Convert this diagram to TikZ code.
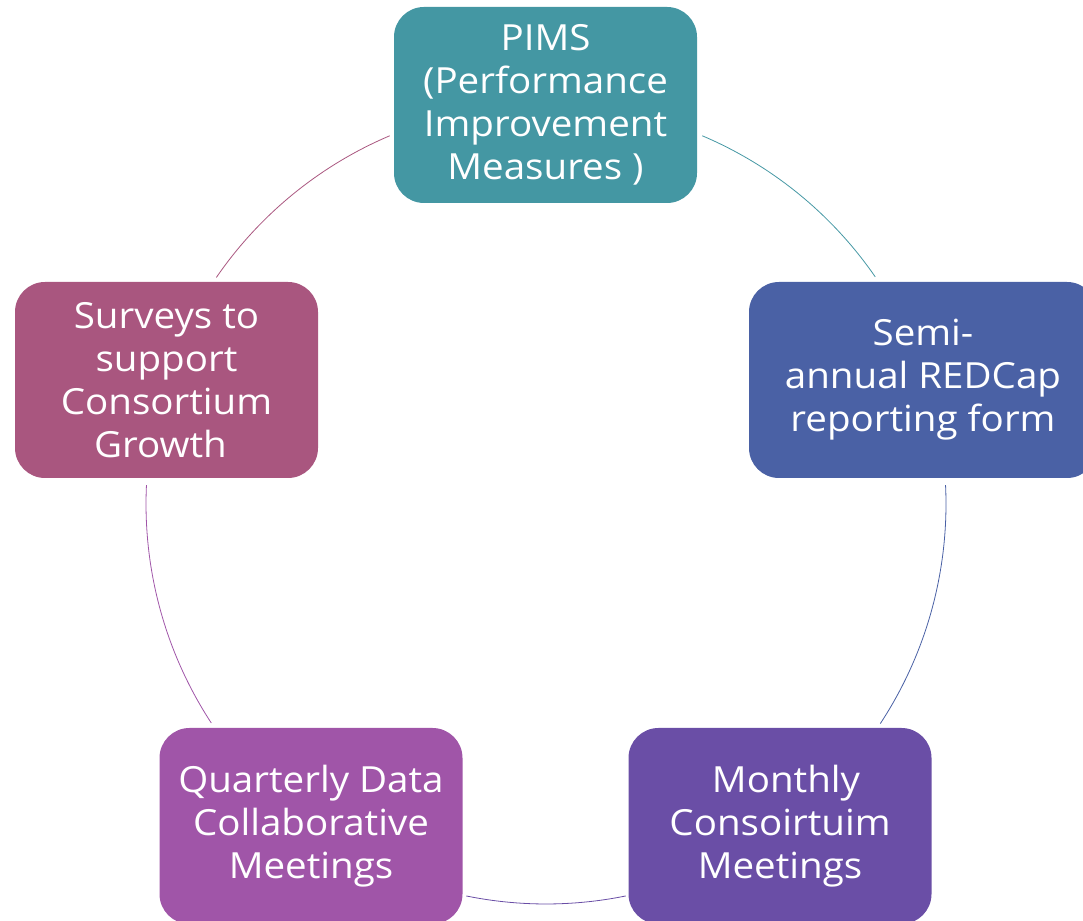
\documentclass[tikz,border=0pt]{standalone}
\usepackage{fontspec}
\usetikzlibrary{calc}
\setmainfont[FakeStretch=1.07]{Open Sans}
\definecolor{cteal}{HTML}{4497A3}
\definecolor{cblue}{HTML}{4A61A5}
\definecolor{cviolet}{HTML}{6A4EA6}
\definecolor{cpurple}{HTML}{A055A8}
\definecolor{cmauve}{HTML}{A9567F}
\tikzset{
  box/.style={rectangle, rounded corners=30pt, minimum width=303pt, minimum height=196pt,
    inner sep=0pt, text=white, align=center,
    font=\fontsize{36}{43}\selectfont},
  ring/.style={line width=0.8pt}
}
\begin{document}
\begin{tikzpicture}[x=1pt,y=1pt]
\useasboundingbox (0,0) rectangle (1083,920);
\clip (0,0) rectangle (1083,920);
\coordinate (c) at (546,416);
\node[box, fill=cteal] (pims) at (545.5,815) {PIMS\\(Performance\\Improvement\hspace*{10pt}\\Measures )};
\node[box, fill=cblue, minimum width=348pt] (semi) at (923,540) {Semi-\\annual REDCap\\reporting form};
\node[box, fill=cviolet] (monthly) at (780,94) {\hspace*{12pt}Monthly\\Consoirtuim\\Meetings};
\node[box, fill=cpurple] (quarterly) at (311,94) {Quarterly Data\\Collaborative\\Meetings};
\node[box, fill=cmauve] (surveys) at (166.5,540) {Surveys to\\support\\Consortium\\Growth\hspace*{12pt}};
\draw[ring, cteal] ($(c)+(67:400)$) arc[start angle=67, end angle=34.6, radius=400];
\draw[ring, cblue] ($(c)+(2.7:400)$) arc[start angle=2.7, end angle=-33.3, radius=400];
\draw[ring, cviolet] ($(c)+(-78.5:400)$) arc[start angle=-78.5, end angle=-101.5, radius=400];
\draw[ring, cpurple] ($(c)+(213.2:400)$) arc[start angle=213.2, end angle=177.3, radius=400];
\draw[ring, cmauve] ($(c)+(145.5:400)$) arc[start angle=145.5, end angle=113, radius=400];
\end{tikzpicture}
\end{document}
